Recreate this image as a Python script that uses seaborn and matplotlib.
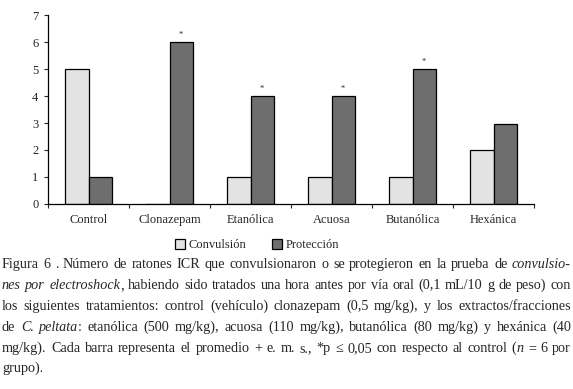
import pandas as pd
import matplotlib.pyplot as plt
import seaborn as sns

# Datos
grupos = ['Control', 'Clonazepam', 'Etanólica', 'Acuosa', 'Butanólica', 'Hexánica']
convulsion = [5, 0, 1, 1, 1, 2]
proteccion = [1, 6, 4, 4, 5, 2.95]
significativo = [False, True, True, True, True, False]

# pie de figura: trozos (texto, cursiva)
caption = [
    [('Figura 6 . Número de ratones ICR que convulsionaron o se protegieron en la prueba de ', False),
     ('convulsio-', True)],
    [('nes por electroshock', True),
     (', habiendo sido tratados una hora antes por vía oral (0,1 mL/10 g de peso) con', False)],
    [('los siguientes tratamientos: control (vehículo) clonazepam (0,5 mg/kg), y los extractos/fracciones', False)],
    [('de ', False), ('C. peltata', True),
     (': etanólica (500 mg/kg), acuosa (110 mg/kg), butanólica (80 mg/kg) y hexánica (40', False)],
    [('mg/kg). Cada barra representa el promedio + e. m. s., *p ≤ 0,05 con respecto al control (', False),
     ('n', True), (' = 6 por', False)],
    [('grupo).', False)],
]

df = pd.DataFrame({
    'grupo': grupos * 2,
    'valor': convulsion + proteccion,
    'serie': ['Convulsión'] * len(grupos) + ['Protección'] * len(grupos),
})

sns.set_style('white')
plt.rcParams['font.family'] = ['Liberation Serif', 'DejaVu Serif']

fig = plt.figure(figsize=(5.73, 3.89), dpi=100)
ax = fig.add_axes([0.0838, 0.4756, 0.8482, 0.4858])

sns.barplot(data=df, x='grupo', y='valor', hue='serie',
            palette=['#e3e3e3', '#6e6e6e'], edgecolor='black', linewidth=0.9,
            width=0.57, ax=ax, legend=True)

for bar, sig in zip(ax.containers[1], significativo):
    if sig:
        ax.text(bar.get_x() + bar.get_width() / 2, bar.get_height() + 0.12, '*',
                ha='center', va='bottom', fontsize=6)

ax.set_ylim(0, 7)
ax.set_xlim(-0.5, len(grupos) - 0.5)
ax.set_xlabel('')
ax.set_ylabel('')
ax.set_yticks(range(0, 8))
ax.set_xticks([i - 0.5 for i in range(len(grupos) + 1)], minor=True)
ax.tick_params(axis='x', which='major', length=0, labelsize=9, pad=7)
ax.tick_params(axis='x', which='minor', length=3, width=0.8, direction='out', bottom=True)
ax.tick_params(axis='y', length=3, width=0.8, direction='out', left=True, labelsize=9, pad=4)
for s in ['top', 'right']:
    ax.spines[s].set_visible(False)
for s in ['left', 'bottom']:
    ax.spines[s].set_color('black')
    ax.spines[s].set_linewidth(0.9)

handles, labels = ax.get_legend_handles_labels()
ax.get_legend().remove()
fig.legend(handles, labels, loc='center', bbox_to_anchor=(257 / 573, 1 - 245 / 389),
           ncol=2, frameon=False, fontsize=9, handlelength=0.8, handleheight=0.8,
           handletextpad=0.3, columnspacing=2.0)

# Pie de figura justificado palabra a palabra
fig.canvas.draw()
renderer = fig.canvas.get_renderer()
W = fig.bbox.width
left, right = 2 / 573, 571 / 573
baselines = [268, 289, 310, 331, 352, 372]
fs = 10.2
for i, line in enumerate(caption):
    yb = 1 - baselines[i] / 389
    words = [[]]
    for chunk, ital in line:
        parts = chunk.split(' ')
        for j, p in enumerate(parts):
            if j > 0:
                words.append([])
            if p:
                words[-1].append((p, ital))
    words = [w for w in words if w]
    objs = []
    widths = []
    for w in words:
        runs = []
        wd = 0
        for txt, ital in w:
            t = fig.text(0, yb, txt, fontsize=fs, style='italic' if ital else 'normal',
                         va='baseline', ha='left')
            r = t.get_window_extent(renderer).width / W
            runs.append((t, r))
            wd += r
        objs.append(runs)
        widths.append(wd)
    space = 0.0052
    if i < len(caption) - 1:
        space = (right - left - sum(widths)) / (len(words) - 1)
    x = left
    for runs, wd in zip(objs, widths):
        xx = x
        for t, r in runs:
            t.set_x(xx)
            xx += r
        x += wd + space

fig.savefig('out.png', dpi=100)
